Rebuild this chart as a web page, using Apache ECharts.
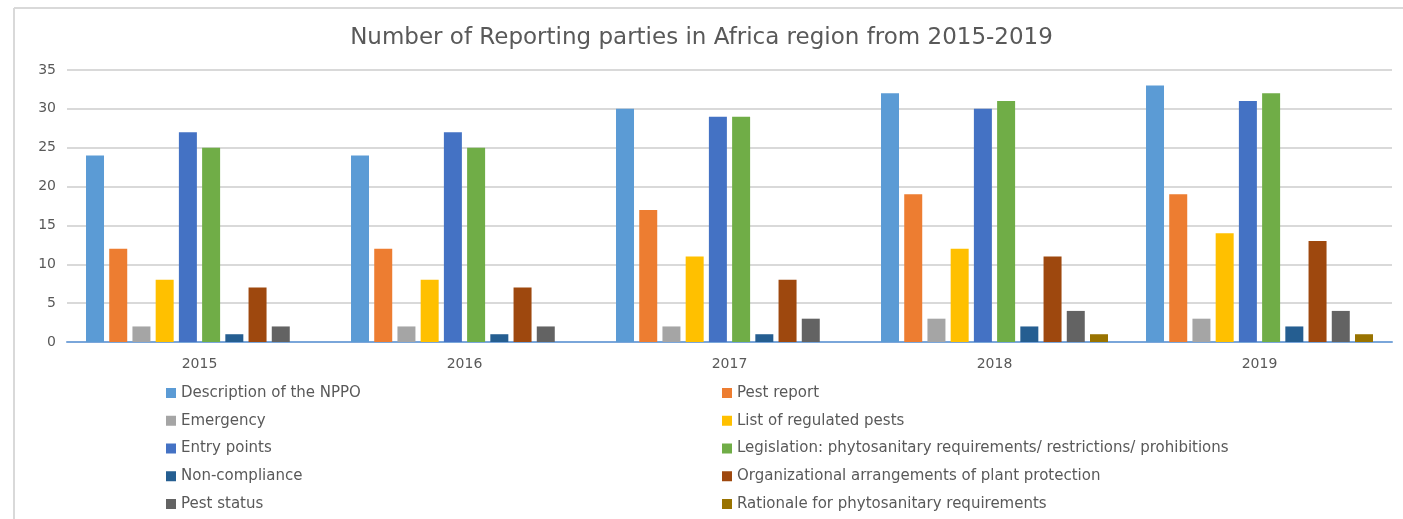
<!DOCTYPE html>
<html lang="en">
<head>
    <meta charset="utf-8">
    <title>Reporting parties in Africa region</title>
    <script src="https://cdn.jsdelivr.net/npm/echarts@6/dist/echarts.min.js"></script>
    <style>
        * { margin: 0; padding: 0; }
        body { background: #fff; }
        #chart { width: 1403px; height: 519px; }
    </style>
</head>
<body>
<div id="chart"></div>
<script>
    // years on the x axis
    const years = ['2015', '2016', '2017', '2018', '2019'];
    const yTicks = [0, 5, 10, 15, 20, 25, 30, 35];

    // one array per report type, values per year
    const nppo = [24, 24, 30, 32, 33];
    const pestReport = [12, 12, 17, 19, 19];
    const emergency = [2, 2, 2, 3, 3];
    const regulatedPests = [8, 8, 11, 12, 14];
    const entryPoints = [27, 27, 29, 30, 31];
    const legislation = [25, 25, 29, 31, 32];
    const nonCompliance = [1, 1, 1, 2, 2];
    const organizational = [7, 7, 8, 11, 13];
    const pestStatus = [2, 2, 3, 4, 4];
    const rationale = [0, 0, 0, 1, 1];

    const seriesNames = [
        'Description of the NPPO',
        'Pest report',
        'Emergency',
        'List of regulated pests',
        'Entry points',
        'Legislation: phytosanitary requirements/ restrictions/ prohibitions',
        'Non-compliance',
        'Organizational arrangements of plant protection',
        'Pest status',
        'Rationale for phytosanitary requirements'
    ];
    const seriesValues = [nppo, pestReport, emergency, regulatedPests, entryPoints,
        legislation, nonCompliance, organizational, pestStatus, rationale];
    const colors = ['#5B9BD5', '#ED7D31', '#A5A5A5', '#FFC000', '#4472C4',
        '#70AD47', '#255E91', '#9E480E', '#636363', '#997300'];

    const textColor = '#595959';
    const font = '"DejaVu Sans", sans-serif';

    const chart = echarts.init(document.getElementById('chart'), null, { renderer: 'canvas' });

    // legend is two columns, filled row by row
    const legendBase = {
        orient: 'vertical',
        top: 385,
        padding: 0,
        itemWidth: 10,
        itemHeight: 10,
        itemGap: 11.75,
        icon: 'rect',
        selectedMode: false,
        textStyle: { color: textColor, fontSize: 15, fontFamily: font, lineHeight: 16 }
    };

    const option = {
        backgroundColor: '#fff',
        animation: false,
        color: colors,
        title: {
            text: 'Number of Reporting parties in Africa region from 2015-2019',
            left: 'center',
            top: 22,
            textStyle: { color: textColor, fontSize: 23, fontWeight: 'normal', fontFamily: font }
        },
        legend: [
            Object.assign({}, legendBase, {
                left: 166,
                data: seriesNames.filter((n, i) => i % 2 === 0)
            }),
            Object.assign({}, legendBase, {
                left: 722,
                data: seriesNames.filter((n, i) => i % 2 === 1)
            })
        ],
        grid: { left: 67, right: 11, top: 70, bottom: 177 },
        xAxis: {
            type: 'category',
            data: years,
            axisLine: { lineStyle: { color: '#7AA6DA', width: 2 } },
            axisTick: { show: false },
            axisLabel: { color: textColor, fontSize: 14, fontFamily: font, margin: 15 }
        },
        yAxis: {
            type: 'value',
            min: yTicks[0],
            max: yTicks[yTicks.length - 1],
            interval: 5,
            axisLine: { show: false },
            axisTick: { show: false },
            axisLabel: { color: textColor, fontSize: 14, fontFamily: font, margin: 11 },
            splitLine: { lineStyle: { color: '#D9D9D9', width: 2 } }
        },
        series: seriesNames.map((name, i) => ({
            name: name,
            type: 'bar',
            data: seriesValues[i],
            barWidth: 18,
            barGap: '29%',
            itemStyle: { color: colors[i] }
        })),
        // chart frame (top and left edges only)
        graphic: [
            { type: 'line', shape: { x1: 14, y1: 8, x2: 1403, y2: 8 }, style: { stroke: '#D9D9D9', lineWidth: 2 } },
            { type: 'line', shape: { x1: 14, y1: 8, x2: 14, y2: 519 }, style: { stroke: '#D9D9D9', lineWidth: 2 } }
        ]
    };

    chart.setOption(option);
</script>
</body>
</html>
